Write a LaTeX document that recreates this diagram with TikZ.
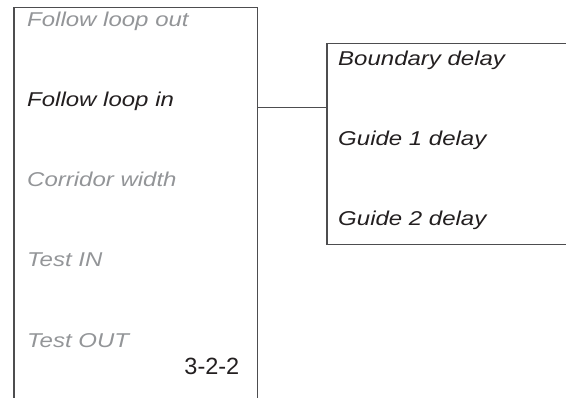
\documentclass[tikz,border=0pt]{standalone}
\usepackage{fontspec}
\setmainfont{Liberation Sans}
\definecolor{linegray}{HTML}{4D4D4F}
\definecolor{txtgray}{HTML}{939598}
\definecolor{txtblack}{HTML}{231F20}
\begin{document}
\begin{tikzpicture}[x=1pt,y=-1pt,
  box/.style={draw=linegray,line width=1.5pt,rectangle,inner sep=0pt,anchor=north west},
  item/.style={anchor=base west,inner sep=0pt,font=\fontsize{20}{22}\selectfont\itshape,xscale=1.2},
  off/.style={item,text=txtgray},
  on/.style={item,text=txtblack},
  conn/.style={draw=linegray,line width=1.5pt}]
\useasboundingbox (0,0) rectangle (566,398);
\clip (0,0) rectangle (566,398);
\node[box,minimum width=243.7pt,minimum height=420pt] (L) at (13,7) {};
\node[box,minimum width=260pt,minimum height=201.3pt] (R) at (326,42.7) {};
\node[off] (t1) at (27,26.7) {Follow loop out};
\node[on]  (t2) at (27,107) {Follow loop in};
\node[off] (t3) at (27,187) {Corridor width};
\node[off] (t4) at (27,267) {Test IN};
\node[off] (t5) at (27,347.5) {Test OUT};
\node[anchor=base east,inner sep=0pt,text=txtblack,font=\fontsize{23.5}{26}\selectfont] (num) at (239.5,375) {3-2-2};
\node[on] (r1) at (338,65.7) {Boundary delay};
\node[on] (r2) at (338,145.7) {Guide 1 delay};
\node[on] (r3) at (338,225.5) {Guide 2 delay};
\coordinate (cy) at (0,107.7);
\draw[conn] (L.east |- cy) -- (R.west |- cy);
\end{tikzpicture}
\end{document}
